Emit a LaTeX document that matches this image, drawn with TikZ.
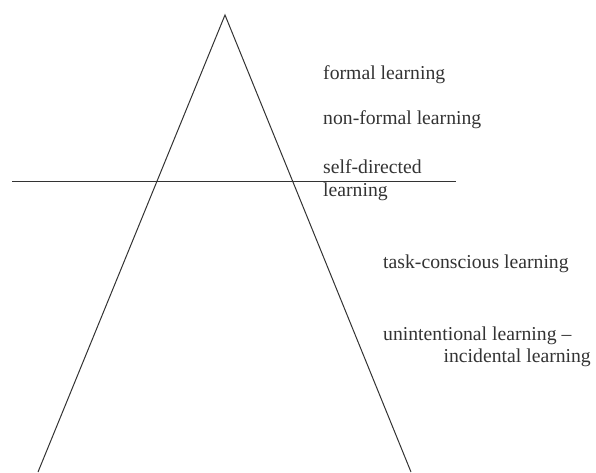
\documentclass[tikz,border=0pt]{standalone}
\usepackage{fontspec}
\setmainfont{Liberation Serif}
\definecolor{ink}{HTML}{333333}
\begin{document}
\begin{tikzpicture}[x=1pt,y=-1pt,
  lbl/.style={inner sep=0pt,text=ink,font=\fontsize{19.7}{23}\selectfont},
  edge/.style={draw=ink,line width=1pt}]
\useasboundingbox (0,0) rectangle (596,472);
\coordinate (apex) at (225,15);
\coordinate (bl) at (38,472);
\coordinate (br) at (411,472);
\coordinate (hl) at (12,181);
\coordinate (hr) at (456,181);
\draw[edge] (bl) -- (apex) -- (br);
\draw[edge] (hl) -- (hr);
\node[lbl,anchor=base west] (formal) at (323,79) {formal learning};
\node[lbl,anchor=base west] (nonformal) at (323,124) {non-formal learning};
\node[lbl,anchor=base west] (self1) at (323,173) {self-directed};
\node[lbl,anchor=base west] (self2) at (323,196) {learning};
\node[lbl,anchor=base west] (task) at (383,268) {task-conscious learning};
\node[lbl,anchor=base west] (unint) at (383,340) {unintentional learning –};
\node[lbl,anchor=base east] (incid) at (591,362) {incidental learning};
\end{tikzpicture}
\end{document}
